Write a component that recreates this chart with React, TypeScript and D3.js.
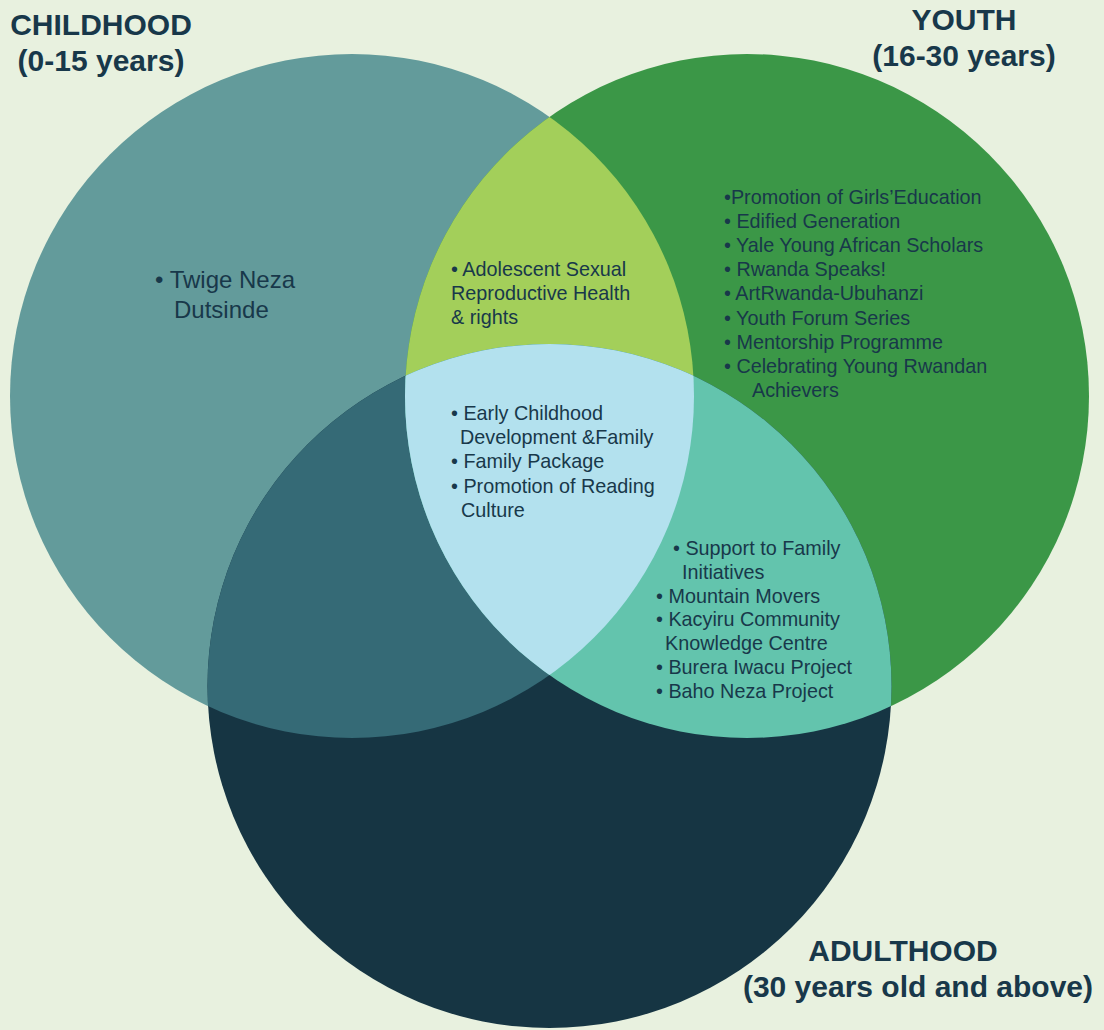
import * as d3 from "d3";

// set titles (two lines each)
const setNames = ["CHILDHOOD", "YOUTH", "ADULTHOOD"];
const setRanges = ["(0-15 years)", "(16-30 years)", "(30 years old and above)"];

// programme lists, one per region of the diagram
const childhoodOnly = ["• Twige Neza", "Dutsinde"];
const childhoodYouth = ["• Adolescent Sexual", "Reproductive Health", "& rights"];
const youthOnly = [
  "•Promotion of Girls’Education",
  "• Edified Generation",
  "• Yale Young African Scholars",
  "• Rwanda Speaks!",
  "• ArtRwanda-Ubuhanzi",
  "• Youth Forum Series",
  "• Mentorship Programme",
  "• Celebrating Young Rwandan",
  "Achievers",
];
const allThree = [
  "• Early Childhood",
  "Development &Family",
  "• Family Package",
  "• Promotion of Reading",
  "Culture",
];
const youthAdult = [
  "• Support to Family",
  "Initiatives",
  "• Mountain Movers",
  "• Kacyiru Community",
  "Knowledge Centre",
  "• Burera Iwacu Project",
  "• Baho Neza Project",
];

const width = 1104;
const height = 1030;

const colors = {
  bg: "#e8f1df",
  childhood: "#639b9b",
  youth: "#3b9747",
  adulthood: "#163543",
  cy: "#a3cf5a",
  ca: "#356a76",
  ya: "#63c4ad",
  all: "#b3e1ee",
  text: "#18384a",
};

export default function App() {
  // venn layout in radius units -> pixels
  const R = 342;
  const x = d3.scaleLinear().domain([-1, 1]).range([352, 747]);
  const y = d3.scaleLinear().domain([0, 1]).range([396, 686]);

  const circles = [
    { id: "c", cx: x(-1), cy: y(0) },
    { id: "y", cx: x(1), cy: y(0) },
    { id: "a", cx: x(0), cy: y(1) },
  ];
  const [C, Y, A] = circles;

  const font = "'Liberation Sans', Arial, Helvetica, sans-serif";

  const block = (
    lines: string[],
    x0: number,
    y0: number,
    lh: number,
    indents: number[],
    size = 19.8
  ) =>
    lines.map((t, i) => (
      <text
        key={t}
        x={x0 + (indents[i] || 0)}
        y={y0 + i * lh}
        fontSize={size}
        fill={colors.text}
        fontFamily={font}
      >
        {t}
      </text>
    ));

  // title anchors: [name x, range x, baseline]
  const titles = [
    [101, 101, 35],
    [964, 964, 30],
    [903, 918, 961],
  ];

  return (
    <svg
      width={width}
      height={height}
      style={{ position: "absolute", left: 0, top: 0 }}
    >
      <defs>
        {circles.map((c) => (
          <clipPath key={c.id} id={`clip-${c.id}`}>
            <circle cx={c.cx} cy={c.cy} r={R} />
          </clipPath>
        ))}
      </defs>
      <rect width={width} height={height} fill={colors.bg} />

      {/* single sets */}
      <circle cx={C.cx} cy={C.cy} r={R} fill={colors.childhood} />
      <circle cx={Y.cx} cy={Y.cy} r={R} fill={colors.youth} />
      <circle cx={A.cx} cy={A.cy} r={R} fill={colors.adulthood} />

      {/* pairs */}
      <g clipPath="url(#clip-c)">
        <circle cx={Y.cx} cy={Y.cy} r={R} fill={colors.cy} />
        <circle cx={A.cx} cy={A.cy} r={R} fill={colors.ca} />
      </g>
      <g clipPath="url(#clip-y)">
        <circle cx={A.cx} cy={A.cy} r={R} fill={colors.ya} />
      </g>

      {/* all three */}
      <g clipPath="url(#clip-c)">
        <g clipPath="url(#clip-y)">
          <circle cx={A.cx} cy={A.cy} r={R} fill={colors.all} />
        </g>
      </g>

      {/* titles */}
      {titles.map((t, i) => (
        <g
          key={setNames[i]}
          fontFamily={font}
          fontWeight="bold"
          fontSize={30}
          fill={colors.text}
          textAnchor="middle"
        >
          <text x={t[0]} y={t[2]}>
            {setNames[i]}
          </text>
          <text x={t[1]} y={t[2] + 36}>
            {setRanges[i]}
          </text>
        </g>
      ))}

      {/* region labels */}
      {block(childhoodOnly, 155, 288, 30, [0, 19], 24)}
      {block(childhoodYouth, 451, 276, 24, [0, 0, 0])}
      {block(youthOnly, 724, 204, 24.1, [0, 0, 0, 0, 0, 0, 0, 0, 28])}
      {block(allThree, 451, 420, 24.2, [0, 9, 0, 0, 10])}
      {block(youthAdult, 656, 555, 23.8, [17, 26, 0, 0, 9, 0, 0])}
    </svg>
  );
}
